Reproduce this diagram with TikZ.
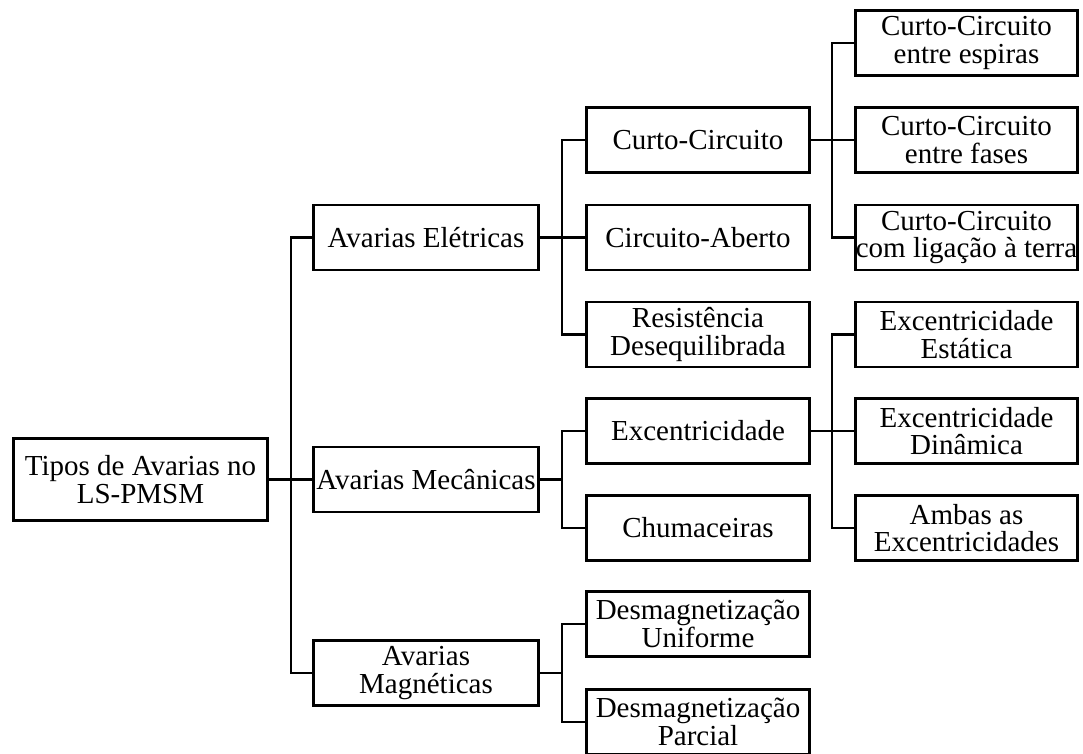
\documentclass[tikz,border=0pt]{standalone}
\usepackage{fontspec}
\setmainfont{Liberation Serif}
\begin{document}
\begin{tikzpicture}[x=1pt,y=-1pt,
  box/.style={draw, line width=2.8pt, align=center, inner sep=0pt,
    minimum height=65, font=\fontsize{29}{27.5}\selectfont},
  rootbox/.style={box, minimum width=254, minimum height=82},
  lvlone/.style={box, minimum width=225},
  lvltwo/.style={box, minimum width=223},
  lvlthree/.style={box, minimum width=222},
  link/.style={line width=2.8pt}]
\clip (0,0) rectangle (1083,754);
\fill[white] (0,0) rectangle (1083,754);

% x positions of the vertical bus lines
\coordinate (busA) at (291,0);
\coordinate (busB) at (562,0);
\coordinate (busC) at (832,0);

% root
\node[rootbox] (root) at (140.5,479.5) {Tipos de Avarias no\\LS-PMSM};

% first level
\node[lvlone] (elet) at (426,237.5) {Avarias Elétricas};
\node[lvlone] (mec)  at (426,479.5) {Avarias Mecânicas};
\node[lvlone] (mag)  at (426,673) {Avarias\\Magnéticas};

% second level
\node[lvltwo] (cc)   at (698,140) {Curto-Circuito};
\node[lvltwo] (ca)   at (698,237.5) {Circuito-Aberto};
\node[lvltwo] (res)  at (698,334.5) {Resistência\\Desequilibrada};
\node[lvltwo] (exc)  at (698,431) {Excentricidade};
\node[lvltwo] (chu)  at (698,528) {Chumaceiras};
\node[lvltwo] (dun)  at (698,624) {Desmagnetização\\Uniforme};
\node[lvltwo] (dpa)  at (698,722) {Desmagnetização\\Parcial};

% third level
\node[lvlthree] (cce) at (966.5,43) {Curto-Circuito\\entre espiras};
\node[lvlthree] (ccf) at (966.5,140) {Curto-Circuito\\entre fases};
\node[lvlthree] (cct) at (966.5,237.5) {Curto-Circuito\\com ligação à terra};
\node[lvlthree] (exs) at (966.5,334.5) {Excentricidade\\Estática};
\node[lvlthree] (exd) at (966.5,431) {Excentricidade\\Dinâmica};
\node[lvlthree] (exa) at (966.5,528) {Ambas as\\Excentricidades};

% connectors: root to first level
\draw[link] (root.east) -- (mec.west);
\draw[link] (elet.west) -- (elet.west -| busA) |- (mag.west);

% first to second level
\draw[link] (elet.east) -- (ca.west);
\draw[link] (cc.west) -- (cc.west -| busB) |- (res.west);
\draw[link] (mec.east) -- (mec.east -| busB);
\draw[link] (exc.west) -- (exc.west -| busB) |- (chu.west);
\draw[link] (mag.east) -- (mag.east -| busB);
\draw[link] (dun.west) -- (dun.west -| busB) |- (dpa.west);

% second to third level
\draw[link] (cc.east) -- (ccf.west);
\draw[link] (cce.west) -- (cce.west -| busC) |- (cct.west);
\draw[link] (exc.east) -- (exd.west);
\draw[link] (exs.west) -- (exs.west -| busC) |- (exa.west);
\end{tikzpicture}
\end{document}
